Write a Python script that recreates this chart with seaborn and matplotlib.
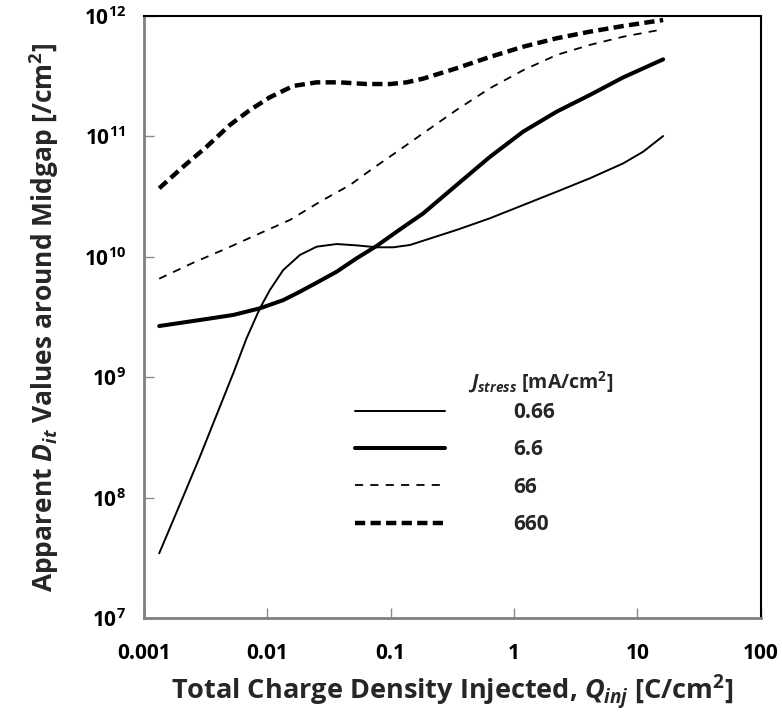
import numpy as np
import pandas as pd
import matplotlib
matplotlib.use("Agg")
import matplotlib.pyplot as plt
import seaborn as sns

# values (log10 of Q_inj and of D_it)
logx_066 = [-2.876, -2.682, -2.546, -2.411, -2.276, -2.168, -2.06, -1.979, -1.871, -1.736,
            -1.60, -1.438, -1.277, -1.114, -0.98, -0.844, -0.466, -0.196, 0.074, 0.344,
            0.614, 0.884, 1.046, 1.208]
logy_066 = [7.537, 8.007, 8.34, 8.686, 9.032, 9.323, 9.572, 9.724, 9.89, 10.015,
            10.084, 10.106, 10.095, 10.079, 10.079, 10.098, 10.223, 10.32, 10.43, 10.54,
            10.652, 10.776, 10.873, 11.003]

logx_66b = [-2.876, -2.546, -2.276, -2.06, -1.871, -1.736, -1.60, -1.438, -1.277, -1.114,
            -0.952, -0.737, -0.466, -0.196, 0.074, 0.344, 0.614, 0.884, 1.208]
logy_66b = [9.425, 9.475, 9.517, 9.572, 9.64, 9.71, 9.785, 9.876, 9.987, 10.09,
            10.208, 10.36, 10.596, 10.83, 11.04, 11.205, 11.344, 11.49, 11.64]

logx_66 = [-2.876, -2.60, -2.33, -2.06, -1.817, -1.56, -1.33, -1.15, -0.925, -0.737,
           -0.466, -0.196, 0.074, 0.344, 0.614, 0.884, 1.208]
logy_66 = [9.818, 9.951, 10.07, 10.195, 10.306, 10.465, 10.596, 10.73, 10.89, 11.026,
           11.22, 11.40, 11.55, 11.676, 11.76, 11.828, 11.89]

logx_660 = [-2.876, -2.682, -2.492, -2.303, -2.141, -1.979, -1.79, -1.60, -1.412, -1.195,
            -1.006, -0.871, -0.737, -0.466, -0.196, 0.074, 0.344, 0.614, 0.884, 1.208]
logy_660 = [10.569, 10.748, 10.914, 11.095, 11.219, 11.325, 11.419, 11.449, 11.449, 11.435,
            11.435, 11.449, 11.48, 11.566, 11.66, 11.745, 11.815, 11.87, 11.917, 11.967]

labels = ["0.66", "6.6", "66", "660"]
x_ticks = [0.001, 0.01, 0.1, 1, 10, 100]
x_ticklabels = ["0.001", "0.01", "0.1", "1", "10", "100"]
y_ticks = [1e7, 1e8, 1e9, 1e10, 1e11, 1e12]

sns.set_theme(style="ticks")
plt.rcParams.update({
    "font.family": ["Open Sans", "DejaVu Sans"],
    "font.weight": "bold",
    "mathtext.fontset": "custom",
    "mathtext.rm": "Open Sans:bold",
    "mathtext.it": "Open Sans:bold:italic",
    "mathtext.bf": "Open Sans:bold",
})

frames = []
for lab, lx, ly in [("0.66", logx_066, logy_066), ("6.6", logx_66b, logy_66b),
                    ("66", logx_66, logy_66), ("660", logx_660, logy_660)]:
    frames.append(pd.DataFrame({"Q": 10 ** np.array(lx), "D": 10 ** np.array(ly), "J": lab}))
df = pd.concat(frames, ignore_index=True)

styles = {
    "0.66": dict(lw=1.4, ls="-"),
    "6.6": dict(lw=2.9, ls="-"),
    "66": dict(lw=1.3, ls=(0, (4.5, 4))),
    "660": dict(lw=3.2, ls=(0, (2.3, 1.2))),
}

fig = plt.figure(figsize=(7.82, 7.18), dpi=100)
ax = fig.add_axes([0.184, 0.1393, 0.789, 0.8384])

handles = []
for lab in labels:
    sub = df[df["J"] == lab]
    sns.lineplot(data=sub, x="Q", y="D", ax=ax, color="black",
                 linewidth=styles[lab]["lw"], linestyle=styles[lab]["ls"],
                 estimator=None, sort=False, legend=False)
    ax.lines[-1].set_solid_joinstyle("round")
    ax.lines[-1].set_dash_joinstyle("round")
    handles.append(ax.lines[-1])

ax.set_xscale("log")
ax.set_yscale("log")
ax.set_xlim(0.001, 100)
ax.set_ylim(1e7, 1e12)
ax.set_xticks(x_ticks)
ax.set_xticklabels(x_ticklabels)
ax.set_yticks(y_ticks)
ax.set_yticklabels([r"10$^{%d}$" % int(np.log10(v)) for v in y_ticks])
ax.minorticks_off()
ax.tick_params(direction="in", length=7, width=1, color="#8c8c8c",
               labelsize=15, labelcolor="black")
ax.tick_params(axis="x", pad=18)
ax.tick_params(axis="y", pad=13)

for side in ["left", "bottom"]:
    ax.spines[side].set_color("#7f7f7f")
    ax.spines[side].set_linewidth(2)
for side in ["top", "right"]:
    ax.spines[side].set_color("black")
    ax.spines[side].set_linewidth(1.5)

ax.set_xlabel(r"Total Charge Density Injected, $Q_{inj}$ [C/cm$^2$]",
              fontsize=19.5, fontweight="bold", labelpad=6)
ax.set_ylabel(r"Apparent $D_{it}$ Values around Midgap [/cm$^2$]",
              fontsize=19, fontweight="bold", labelpad=16)

leg = ax.legend(handles, labels, loc="upper left", bbox_to_anchor=(0.454, 0.440),
                bbox_transform=fig.transFigure, frameon=False, fontsize=15,
                handlelength=4.3, handletextpad=3.3, labelspacing=0.78,
                borderpad=0, borderaxespad=0)
for t in leg.get_texts():
    t.set_fontweight("bold")
fig.text(0.598, 0.468, r"$J_{stress}$ [mA/cm$^2$]", fontsize=14,
         fontweight="bold", va="center", ha="left")

fig.savefig("out.png", dpi=100)
